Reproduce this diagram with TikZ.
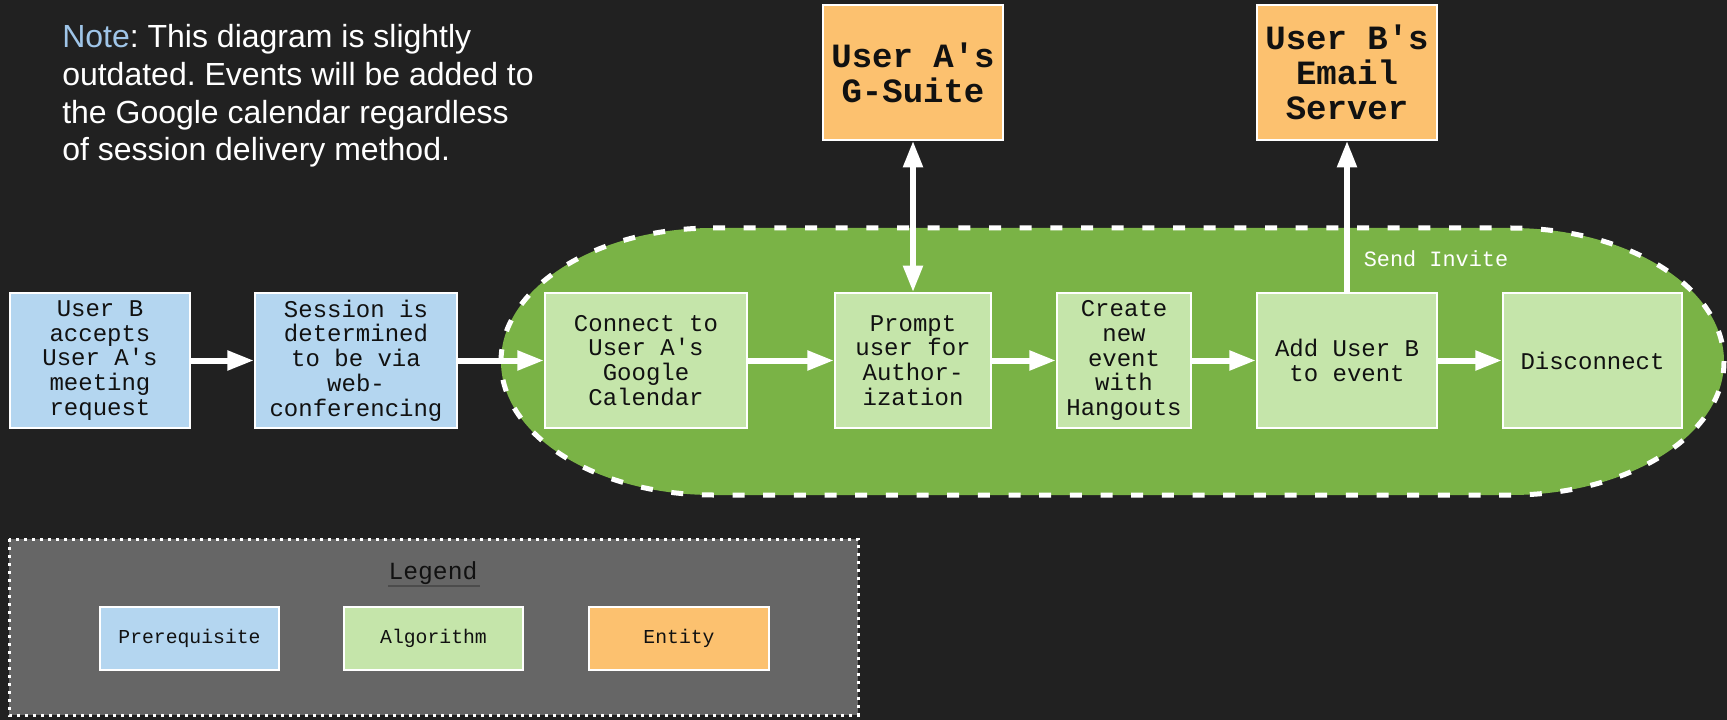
\documentclass[tikz,border=0pt]{standalone}
\usepackage{fontspec}
\setmainfont{Liberation Sans}
\setmonofont{Liberation Mono}
\usetikzlibrary{arrows.meta}
\definecolor{bgc}{HTML}{212121}
\definecolor{prereq}{HTML}{B4D6F0}
\definecolor{algo}{HTML}{C5E5AA}
\definecolor{ovalc}{HTML}{7AB346}
\definecolor{entity}{HTML}{FCC16F}
\definecolor{legbg}{HTML}{666666}
\definecolor{notec}{HTML}{9FC5E8}
\definecolor{ink}{HTML}{111111}
\frenchspacing
\begin{document}
\begin{tikzpicture}[x=0.75pt,y=-0.75pt,
 box/.style={draw=white, line width=1.5pt, inner sep=0pt, align=center, text=ink,
   font=\ttfamily\fontsize{18}{18.6}\selectfont, minimum height=100.8pt},
 pre/.style={box, fill=prereq},
 alg/.style={box, fill=algo},
 ent/.style={box, fill=entity, font=\ttfamily\bfseries\fontsize{25.5}{26.3}\selectfont, minimum width=135pt},
 leg/.style={draw=white, line width=1.5pt, minimum width=134.5pt, minimum height=47.25pt,
   inner sep=0pt, text=ink, font=\ttfamily\fontsize{14.8}{16}\selectfont},
 flow/.style={draw=white, line width=4.5pt, -{Triangle[length=20pt,width=14pt]}},
 flowboth/.style={draw=white, line width=4.5pt, {Triangle[length=20pt,width=14pt]}-{Triangle[length=20pt,width=14pt]}},
 notetxt/.style={anchor=base west, inner sep=0pt, text=white, font=\fontsize{24}{28.3}\selectfont}
]
% background
\fill[bgc] (0,0) rectangle (1727,720);
\useasboundingbox (0,0) rectangle (1727,720);

% green oval
\draw[fill=ovalc, draw=white, line width=3.75pt, dash pattern=on 9pt off 14pt]
  (713,228) -- (1511,228)
  .. controls (1628.6,228) and (1724,287.8) .. (1724,361.5)
  .. controls (1724,435.2) and (1628.6,495) .. (1511,495)
  -- (713,495)
  .. controls (595.9,495) and (501,435.2) .. (501,361.5)
  .. controls (501,287.8) and (595.9,228) .. (713,228) -- cycle;

% legend
\draw[fill=legbg, draw=white, line width=2.25pt, dash pattern=on 2.25pt off 3.75pt]
  (9,539) rectangle (858,715);
\node[inner sep=0pt, text=ink, font=\ttfamily\fontsize{18.5}{20}\selectfont] (legtitle) at (433,573) {Legend};
\draw[draw=black!70, line width=1.5pt] (388,586) -- (480,586);
\node[leg, fill=prereq] (lg1) at (189.5,638.5) {Prerequisite};
\node[leg, fill=algo] (lg2) at (433.5,638.5) {Algorithm};
\node[leg, fill=entity] (lg3) at (679,638.5) {Entity};

% note
\node[notetxt] (note1) at (62,48) {\textcolor{notec}{Note}: This diagram is slightly};
\node[notetxt] (note2) at (62,86) {outdated. Events will be added to};
\node[notetxt] (note3) at (62,123.5) {the Google calendar regardless};
\node[notetxt] (note4) at (62,161) {of session delivery method.};

% boxes
\node[pre, minimum width=135pt] (b1) at (100,360.5) {User B\\accepts\\User A's\\meeting\\request};
\node[pre, minimum width=151.5pt] (b2) at (356,360.5) {Session is\\determined\\to be via\\web-\\conferencing};
\node[alg, minimum width=151.5pt] (c1) at (646,360.5) {Connect to\\User A's\\Google\\Calendar};
\node[alg, minimum width=117pt] (c2) at (913,360.5) {Prompt\\user for\\Author-\\ization};
\node[alg, minimum width=100.5pt] (c3) at (1124,360.5) {Create\\new\\event\\with\\Hangouts};
\node[alg, minimum width=135pt] (c4) at (1347,360.5) {Add User B\\to event};
\node[alg, minimum width=134.25pt] (c5) at (1592.5,360.5) {Disconnect};
\node[ent] (e1) at (913,72.5) {User A's\\G-Suite};
\node[ent] (e2) at (1347,72.5) {User B's\\Email\\Server};

% connectors
\draw[flow] (b1.east) -- (b2.west);
\draw[flow] (b2.east) -- (c1.west);
\draw[flow] (c1.east) -- (c2.west);
\draw[flow] (c2.east) -- (c3.west);
\draw[flow] (c3.east) -- (c4.west);
\draw[flow] (c4.east) -- (c5.west);
\draw[flowboth] (e1.south) -- (c2.north);
\draw[flow] (c4.north) -- (e2.south);
\node[inner sep=0pt, text=white, font=\ttfamily\fontsize{16.4}{18}\selectfont] (send) at (1436,259) {Send Invite};
\end{tikzpicture}
\end{document}
